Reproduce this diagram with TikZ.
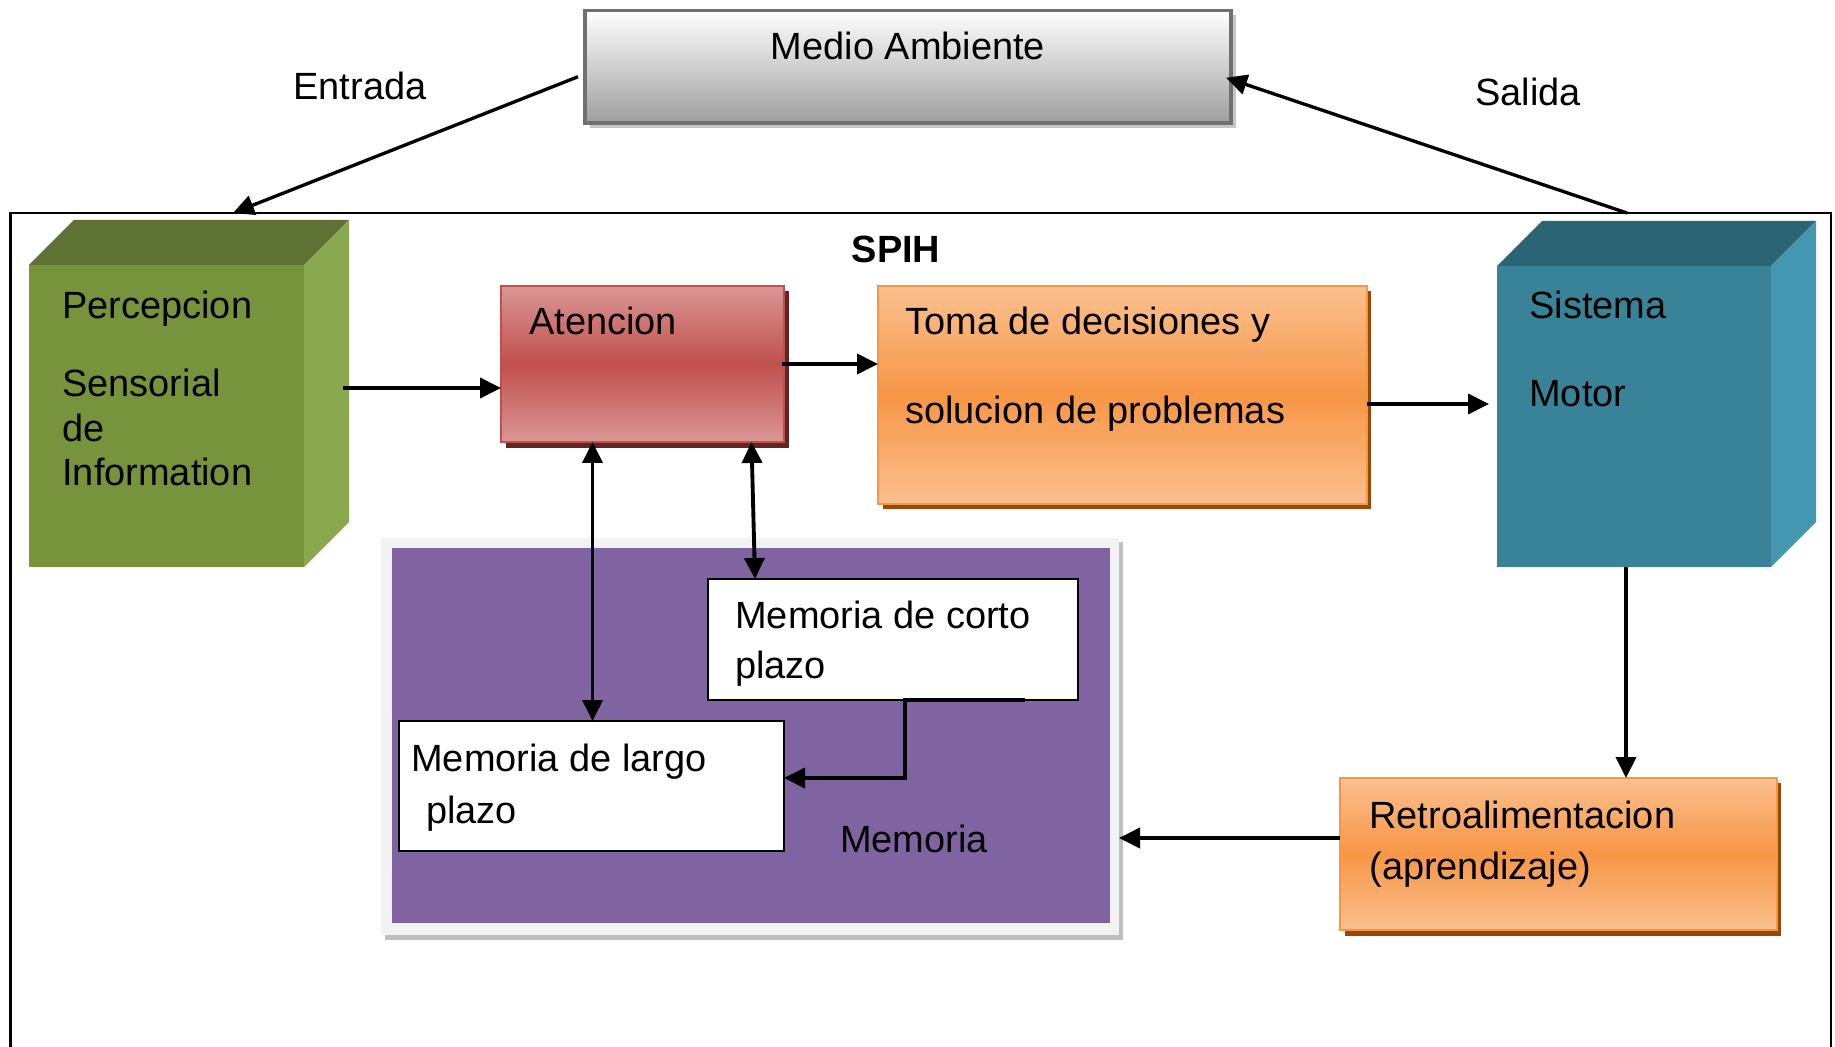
\documentclass[tikz,border=0pt]{standalone}
\usepackage{fontspec}
\setmainfont{Liberation Sans}
\usetikzlibrary{arrows.meta,calc,fit}
\definecolor{grFront}{RGB}{119,147,60}
\definecolor{grTop}{RGB}{94,114,52}
\definecolor{grSide}{RGB}{138,168,78}
\definecolor{tlFront}{RGB}{56,131,151}
\definecolor{tlTop}{RGB}{43,100,116}
\definecolor{tlSide}{RGB}{67,151,176}
\definecolor{redL}{RGB}{218,150,148}
\definecolor{redD}{RGB}{192,80,77}
\definecolor{redSh}{RGB}{99,37,35}
\definecolor{orL}{RGB}{250,192,143}
\definecolor{orD}{RGB}{247,150,70}
\definecolor{orSh}{RGB}{152,72,7}
\definecolor{purp}{RGB}{128,100,162}
\definecolor{panel}{RGB}{242,242,242}
\definecolor{medBd}{RGB}{112,112,112}
\tikzset{
  conn/.style={line width=2.2pt,-{Triangle[length=0.42cm,width=0.4cm]}},
  conn2/.style={line width=2.2pt,{Triangle[length=0.42cm,width=0.4cm]}-{Triangle[length=0.42cm,width=0.4cm]}},
  lbl/.style={anchor=base west,inner sep=0pt},
  boxfit/.style={inner sep=0pt,outer sep=0pt},
  redbox/.style={boxfit,draw=redD,line width=1.4pt,top color=redL,bottom color=redL,middle color=redD},
  orbox/.style={boxfit,draw=orD,line width=1.4pt,top color=orL,bottom color=orL,middle color=orD},
  whitebox/.style={boxfit,draw=black,line width=1.6pt,fill=white},
}
\begin{document}
\begin{tikzpicture}[x=0.02cm,y=-0.02cm,font=\fontsize{21.6}{26}\selectfont]
\useasboundingbox (0,0) rectangle (1835,1047);
\fill[white] (0,0) rectangle (1835,1047);

% frame
\coordinate (fbl) at (10.5,1047);
\coordinate (ftl) at (10.5,213);
\coordinate (ftr) at (1831,213);
\coordinate (fbr) at (1831,1047);
\draw[line width=1.4pt] (fbl) -- (ftl) -- (ftr) -- (fbr);

% Medio Ambiente
\fill[gray!45] (590,15) rectangle (1236,128);
\node[boxfit,draw=medBd,line width=2pt,top color=white,bottom color=black!38,fit={(585,10.5) (1231,123)}] (medio) {};
\node[anchor=base,inner sep=0pt] (tmedio) at (908,60) {Medio Ambiente};

\node[anchor=base,inner sep=0pt] (tent) at (360,100) {Entrada};
\node[anchor=base,inner sep=0pt] (tsal) at (1528,106) {Salida};
\node[anchor=base,inner sep=0pt,font=\fontsize{21.6}{26}\selectfont\bfseries] (tspih) at (896,263) {SPIH};

% green cube
\node[boxfit,fill=grFront,fit={(29,265) (304,567)}] (percf) {};
\fill[grTop] (percf.north west) -- ($(percf.north west)+(45,-45)$) -- ($(percf.north east)+(45,-45)$) -- (percf.north east) -- cycle;
\fill[grSide] (percf.north east) -- ($(percf.north east)+(45,-45)$) -- ($(percf.south east)+(45,-45)$) -- (percf.south east) -- cycle;
\node[lbl] (tp1) at (62,318) {Percepcion};
\node[lbl] (tp2) at (62,397) {Sensorial};
\node[lbl] (tp3) at (62,441) {de};
\node[lbl] (tp4) at (62,485) {Information};

% teal cube
\node[boxfit,fill=tlFront,fit={(1497,266) (1771,567)}] (sisf) {};
\fill[tlTop] (sisf.north west) -- ($(sisf.north west)+(45,-45)$) -- ($(sisf.north east)+(45,-45)$) -- (sisf.north east) -- cycle;
\fill[tlSide] (sisf.north east) -- ($(sisf.north east)+(45,-45)$) -- ($(sisf.south east)+(45,-45)$) -- (sisf.south east) -- cycle;
\node[lbl] (ts1) at (1529,318) {Sistema};
\node[lbl] (ts2) at (1529,406) {Motor};

% Atencion
\fill[redSh] (506,291) rectangle (789,448);
\node[redbox,fit={(501,286) (784,442)}] (atn) {};
\node[lbl] (tatn) at (529,335) {Atencion};

% Toma
\fill[orSh] (883,291) rectangle (1371,509);
\node[orbox,fit={(878,286) (1367,504)}] (toma) {};
\node[lbl] (tt1) at (905,335) {Toma de decisiones y};
\node[lbl] (tt2) at (905,423) {solucion de problemas};

% Retro
\fill[orSh] (1345,783) rectangle (1781,936);
\node[orbox,fit={(1340,778) (1777,930)}] (retro) {};
\node[lbl] (tr1) at (1369,828) {Retroalimentacion};
\node[lbl] (tr2) at (1369,879) {(aprendizaje)};

% Memoria panel
\fill[gray!50] (385,542) rectangle (1123,940);
\node[boxfit,fill=panel,fit={(381,538) (1119,935)}] (mem) {};
\fill[purp] (392,548) rectangle (1110,923);
\node[anchor=base,inner sep=0pt] (tmem) at (914,852) {Memoria};

\node[whitebox,fit={(708,579) (1078,700)}] (corto) {};
\node[lbl] (tc1) at (735,628) {Memoria de corto};
\node[lbl] (tc2) at (735,678) {plazo};

\node[whitebox,fit={(399,721) (784,851)}] (largo) {};
\node[lbl] (tl1) at (411,771) {Memoria de largo};
\node[lbl] (tl2) at (426,823) {plazo};

% connectors
\coordinate (ein) at ($(medio.west)+(-7,10)$);
\coordinate (eout) at (233,213);
\draw[conn,line width=1.9pt] (ein) -- (eout);
\coordinate (sin) at (1627,213);
\draw[conn,line width=1.9pt] (sin) -- ($(medio.east)+(-5,11)$);

\coordinate (a1) at ($(percf.east)+(39,-28)$);
\draw[conn] (a1) -- (a1 -| atn.west);
\draw[conn] ($(atn.east)+(-2,0)$) -- (atn.east -| toma.west);
\coordinate (a3) at ($(toma.east)+(0,9)$);
\draw[conn,shorten >=0.16cm] (a3) -- (a3 -| sisf.west);
\coordinate (a4) at ($(sisf.south)+(-8,0)$);
\draw[conn] (a4) -- (a4 |- retro.north);
\coordinate (a5) at ($(retro.west)+(0,-16)$);
\draw[conn] (a5) -- (a5 -| mem.east);
\coordinate (a6) at ($(atn.south)+(-50,0)$);
\draw[conn2] (a6) -- (a6 |- largo.north);
\draw[conn2] ($(atn.south)+(109,0)$) -- ($(corto.north)+(-138,0)$);
\draw[conn] ($(corto.south)+(132,0)$) -- ($(corto.south)+(12,0)$) |- ($(largo.east)+(0,-8)$);
\end{tikzpicture}
\end{document}
